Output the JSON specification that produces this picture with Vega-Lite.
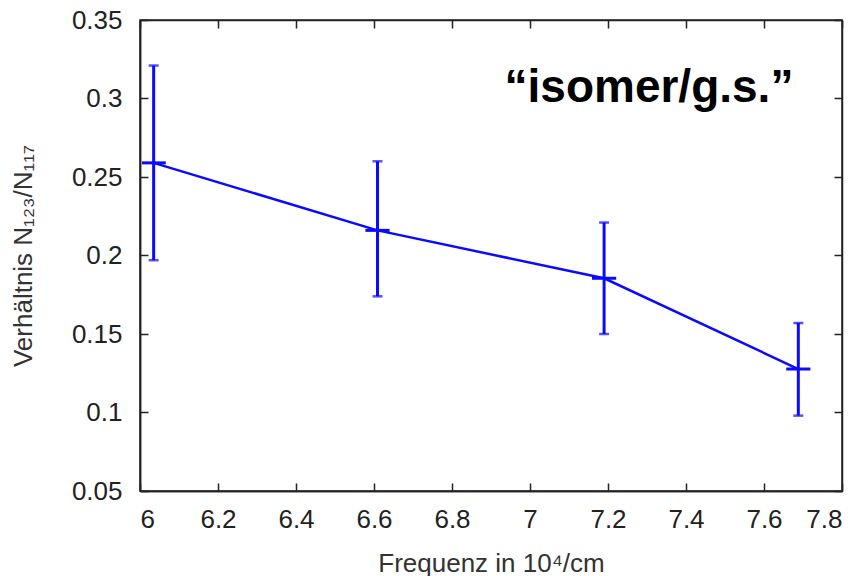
{
  "$schema": "https://vega.github.io/schema/vega-lite/v6.json",
  "width": 702,
  "height": 471,
  "autosize": {"type": "none"},
  "padding": {"left": 140, "top": 20, "right": 23, "bottom": 85},
  "background": "white",
  "config": {
    "view": {"stroke": "#222", "strokeWidth": 1.5},
    "font": "Liberation Sans",
    "axis": {
      "domainColor": "#222",
      "domainWidth": 1.5,
      "grid": false,
      "labelFont": "Liberation Sans",
      "labelFontSize": 26,
      "labelColor": "#222",
      "titleFont": "Liberation Sans",
      "titleFontSize": 26,
      "titleFontWeight": "normal",
      "titleColor": "#333"
    }
  },
  "datasets": {
    "points": [
      {"freq": 6.035, "ratio": 0.259, "lo": 0.197, "hi": 0.321, "flo": 6.005, "fhi": 6.066},
      {"freq": 6.609, "ratio": 0.216, "lo": 0.174, "hi": 0.260, "flo": 6.578, "fhi": 6.640},
      {"freq": 7.190, "ratio": 0.1855, "lo": 0.150, "hi": 0.221, "flo": 7.159, "fhi": 7.221},
      {"freq": 7.688, "ratio": 0.1277, "lo": 0.098, "hi": 0.157, "flo": 7.657, "fhi": 7.719}
    ],
    "note": [
      {"freq": 7.305, "ratio": 0.298, "label": "“isomer/g.s.”"}
    ]
  },
  "layer": [
    {
      "data": {"name": "points"},
      "mark": {"type": "line", "color": "#0a0aff", "strokeWidth": 2.5},
      "encoding": {
        "x": {
          "field": "freq", "type": "quantitative",
          "scale": {"domain": [6, 7.8], "nice": false, "zero": false},
          "axis": {
            "orient": "bottom",
            "values": [6, 6.2, 6.4, 6.6, 6.8, 7, 7.2, 7.4, 7.6, 7.8],
            "format": "~g",
            "ticks": false,
            "labelPadding": 15,
            "title": "Frequenz in 10⁴/cm",
            "titlePadding": 18
          }
        },
        "y": {
          "field": "ratio", "type": "quantitative",
          "scale": {"domain": [0.05, 0.35], "nice": false, "zero": false},
          "axis": {
            "orient": "left",
            "values": [0.05, 0.1, 0.15, 0.2, 0.25, 0.3, 0.35],
            "format": "~g",
            "ticks": false,
            "labelPadding": 18,
            "title": "Verhältnis N₁₂₃/N₁₁₇",
            "titlePadding": 35
          }
        }
      }
    },
    {
      "data": {"name": "points"},
      "mark": {"type": "rule", "color": "#0a0aff", "strokeWidth": 3},
      "encoding": {
        "x": {
          "field": "freq", "type": "quantitative",
          "axis": {
            "orient": "top",
            "offset": -471,
            "ticks": true,
            "tickSize": 8,
            "tickWidth": 1.5,
            "tickColor": "#222",
            "values": [6, 6.2, 6.4, 6.6, 6.8, 7, 7.2, 7.4, 7.6, 7.8],
            "labelOpacity": 0,
            "labelColor": "#ffffff",
            "labelFontSize": 1,
            "title": null
          }
        },
        "y": {
          "field": "lo", "type": "quantitative",
          "axis": {
            "orient": "right",
            "offset": -702,
            "ticks": true,
            "tickSize": 8,
            "tickWidth": 1.5,
            "tickColor": "#222",
            "values": [0.05, 0.1, 0.15, 0.2, 0.25, 0.3, 0.35],
            "labelOpacity": 0,
            "labelColor": "#ffffff",
            "labelFontSize": 1,
            "title": null
          }
        },
        "y2": {"field": "hi"}
      }
    },
    {
      "data": {"name": "points"},
      "mark": {"type": "rule", "color": "#0a0aff", "strokeWidth": 3},
      "encoding": {
        "x": {
          "field": "flo", "type": "quantitative",
          "axis": {
            "orient": "bottom",
            "offset": -471,
            "ticks": true,
            "tickSize": 8,
            "tickWidth": 1.5,
            "tickColor": "#222",
            "values": [6, 6.2, 6.4, 6.6, 6.8, 7, 7.2, 7.4, 7.6, 7.8],
            "labelOpacity": 0,
            "labelColor": "#ffffff",
            "labelFontSize": 1,
            "title": null
          }
        },
        "x2": {"field": "fhi"},
        "y": {
          "field": "ratio", "type": "quantitative",
          "axis": {
            "orient": "left",
            "offset": -702,
            "ticks": true,
            "tickSize": 8,
            "tickWidth": 1.5,
            "tickColor": "#222",
            "values": [0.05, 0.1, 0.15, 0.2, 0.25, 0.3, 0.35],
            "labelOpacity": 0,
            "labelColor": "#ffffff",
            "labelFontSize": 1,
            "title": null
          }
        }
      }
    },
    {
      "data": {"name": "points"},
      "mark": {"type": "tick", "color": "#0a0aff", "orient": "horizontal", "size": 10, "thickness": 2.5},
      "encoding": {
        "x": {"field": "freq", "type": "quantitative", "axis": null},
        "y": {"field": "hi", "type": "quantitative", "axis": null}
      }
    },
    {
      "data": {"name": "points"},
      "mark": {"type": "tick", "color": "#0a0aff", "orient": "horizontal", "size": 10, "thickness": 2.5},
      "encoding": {
        "x": {"field": "freq", "type": "quantitative", "axis": null},
        "y": {"field": "lo", "type": "quantitative", "axis": null}
      }
    },
    {
      "data": {"name": "note"},
      "mark": {"type": "text", "font": "Liberation Sans", "fontSize": 46, "fontWeight": "bold", "color": "#000", "align": "center", "baseline": "alphabetic"},
      "encoding": {
        "x": {"field": "freq", "type": "quantitative", "axis": null},
        "y": {"field": "ratio", "type": "quantitative", "axis": null},
        "text": {"field": "label"}
      }
    }
  ],
  "resolve": {"axis": {"x": "independent", "y": "independent"}}
}
